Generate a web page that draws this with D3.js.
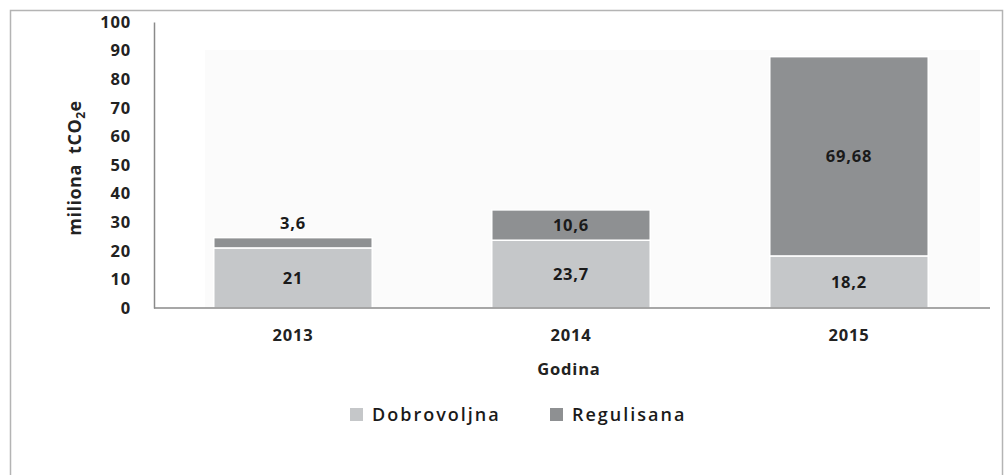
<!DOCTYPE html>
<html><head><meta charset="utf-8">
<script src="https://cdn.jsdelivr.net/npm/d3@7/dist/d3.min.js"></script>
<style>body{margin:0;background:#fff;}svg{display:block;}</style>
</head><body><svg id="c" width="1006" height="475"></svg>
<script>
const years = ["2013", "2014", "2015"];
const dobrovoljna = [21, 23.7, 18.2];
const regulisana = [3.6, 10.6, 69.68];
const dobLabels = ["21", "23,7", "18,2"];
const regLabels = ["3,6", "10,6", "69,68"];
const yTicks = [0,10,20,30,40,50,60,70,80,90,100];
const seriesNames = ["Dobrovoljna", "Regulisana"];
const colors = ["#c5c7c9", "#8e9092"];

const svg = d3.select("#c");
const font = "'Open Sans', 'DejaVu Sans', sans-serif";

// outer frame
svg.append("rect").attr("x",10.5).attr("y",10.5).attr("width",992).attr("height",470)
  .attr("fill","#fff").attr("stroke","#b4b4b4").attr("stroke-width",1.5);

const x = d3.scaleBand().domain(years).range([154, 988]).paddingInner(0.43).paddingOuter(0.215);
const y = d3.scaleLinear().domain([0,100]).range([308, 22]);

// faint plot shading
svg.append("rect").attr("x",205).attr("y",50).attr("width",775).attr("height",258).attr("fill","#fbfbfb");

// stacked data
const stackData = years.map((yr,i)=>({year:yr, Dobrovoljna:dobrovoljna[i], Regulisana:regulisana[i]}));
const stacked = d3.stack().keys(seriesNames)(stackData);

stacked.forEach((s,si)=>{
  svg.append("g").selectAll("rect").data(s).join("rect")
    .attr("x", d=>x(d.data.year))
    .attr("y", d=>y(d[1]))
    .attr("width", x.bandwidth())
    .attr("height", d=>y(d[0])-y(d[1]))
    .attr("fill", colors[si])
    .attr("stroke","#fff").attr("stroke-width",1.5);
});

// axes
const yAxis = svg.append("g").attr("transform","translate(154,0)")
  .call(d3.axisLeft(y).tickValues(yTicks).tickSize(0).tickPadding(23));
yAxis.select(".domain").attr("stroke","#8a8a8a").attr("stroke-width",1.5);
yAxis.selectAll("text").attr("font-family",font).attr("font-size",16.5).attr("font-weight","bold")
  .attr("letter-spacing","0.8px").attr("fill","#222");

const xAxis = svg.append("g").attr("transform","translate(0,308)")
  .call(d3.axisBottom(x).tickSize(0).tickPadding(21).tickSizeOuter(0));
xAxis.select(".domain").attr("d","M154,0H990").attr("stroke","#8a8a8a").attr("stroke-width",1.5);
xAxis.selectAll("text").attr("font-family",font).attr("font-size",16.5).attr("font-weight","bold")
  .attr("letter-spacing","0.8px").attr("fill","#222");

// value labels
const lab = svg.append("g").attr("font-family",font).attr("font-size",16.5).attr("font-weight","bold")
  .attr("letter-spacing","0.8px").attr("fill","#1a1a1a").attr("text-anchor","middle");
years.forEach((yr,i)=>{
  const cx = x(yr)+x.bandwidth()/2;
  lab.append("text").attr("x",cx).attr("y",(y(0)+y(dobrovoljna[i]))/2).attr("dy","0.35em").text(dobLabels[i]);
  const top = dobrovoljna[i]+regulisana[i];
  const h = y(dobrovoljna[i]) - y(top);
  const ly = h < 20 ? y(top) - 14 : (y(dobrovoljna[i])+y(top))/2;
  lab.append("text").attr("x",cx).attr("y",ly).attr("dy","0.35em").text(regLabels[i]);
});

// axis titles
svg.append("text").attr("x",569).attr("y",375).attr("text-anchor","middle")
  .attr("font-family",font).attr("font-size",16.5).attr("font-weight","bold").attr("letter-spacing","0.8px")
  .attr("fill","#222").text("Godina");

const yt = svg.append("text").attr("transform","translate(81,168) rotate(-90)").attr("text-anchor","middle")
  .attr("font-family",font).attr("font-size",18).attr("font-weight","bold").attr("letter-spacing","0.5px")
  .attr("fill","#222");
yt.append("tspan").text("miliona\u00a0\u00a0tCO");
yt.append("tspan").attr("font-size",12).attr("dy",4).text("2");
yt.append("tspan").attr("dy",-4).text("e");

// legend
const legX = [350, 550];
seriesNames.forEach((n,i)=>{
  svg.append("rect").attr("x",legX[i]).attr("y",408).attr("width",13).attr("height",13).attr("fill",colors[i]);
  svg.append("text").attr("x",legX[i]+22).attr("y",421).attr("font-family",font).attr("font-size",18)
    .attr("font-weight",600).attr("letter-spacing","2px").attr("fill","#1a1a1a").text(n);
});
</script></body></html>
